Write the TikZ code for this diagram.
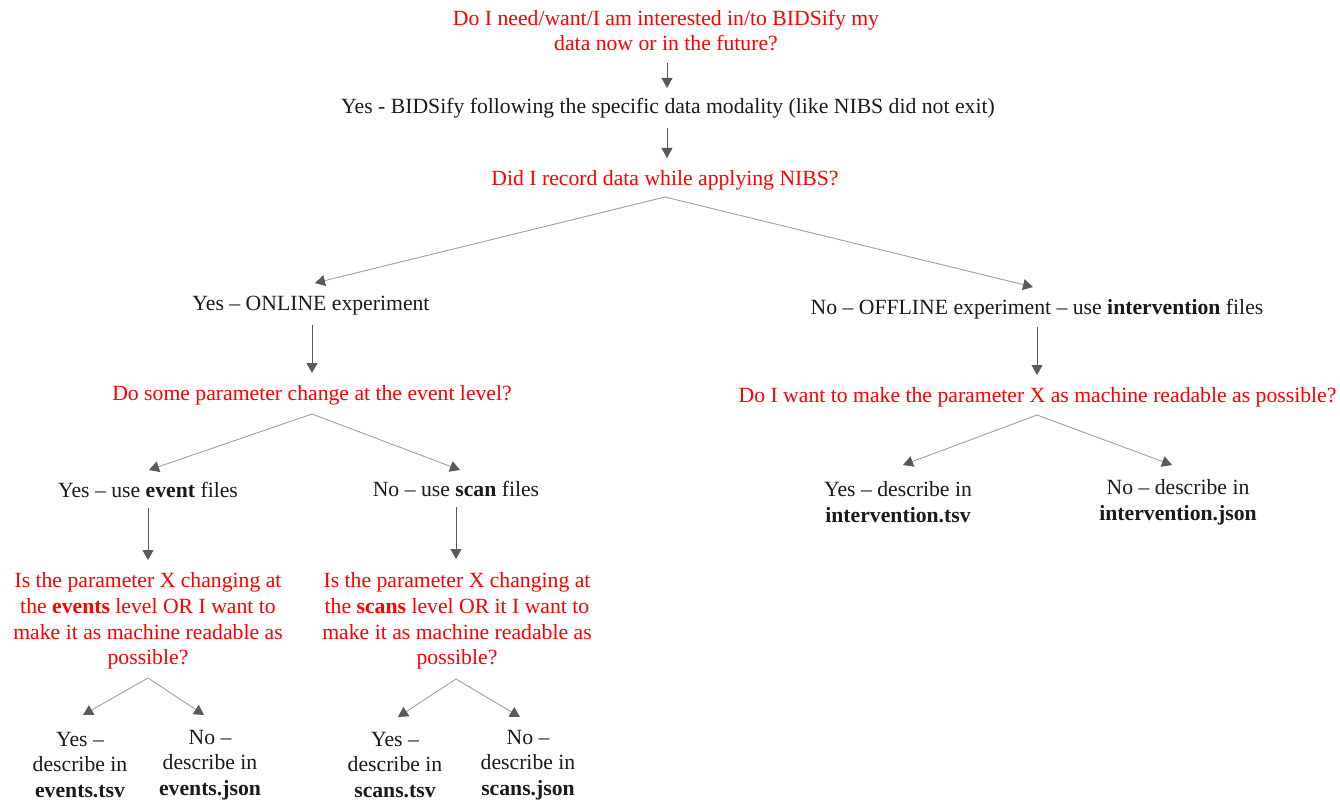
\documentclass[tikz,border=0pt]{standalone}
\usepackage{fontspec}
\setmainfont{Liberation Serif}
\usetikzlibrary{arrows.meta,calc}
\definecolor{qred}{HTML}{FF0000}
\definecolor{lgray}{HTML}{A0A0A0}
\definecolor{dgray}{HTML}{5A5A5A}
\definecolor{tblack}{HTML}{1A1A1A}
\begin{document}
\begin{tikzpicture}[x=1pt,y=-1pt,
  txt/.style={font=\fontsize{21.7}{25.8}\selectfont, align=center, inner sep=2pt, text=tblack},
  q/.style={txt, text=qred},
  varr/.style={draw=dgray, line width=0.9pt, -{Triangle[length=10pt,width=11pt]}},
  darr/.style={draw=lgray, line width=0.9pt, -{Triangle[length=10pt,width=11pt,color=dgray]}}
]
\useasboundingbox (0,0) rectangle (1340,805);
\node[q] (q1) at (666,30.5) {Do I need/want/I am interested in/to BIDSify my\\data now or in the future?};
\node[txt] (a1) at (668,108) {Yes - BIDSify following the specific data modality (like NIBS did not exit)};
\node[q] (q2) at (665,180) {Did I record data while applying NIBS?};
\node[txt] (on) at (311,306) {Yes – ONLINE experiment};
\node[txt] (off) at (1037,309) {No – OFFLINE experiment – use \textbf{intervention} files};
\node[q] (q3) at (312,395) {Do some parameter change at the event level?};
\node[q] (q4) at (1037.5,397) {Do I want to make the parameter X as machine readable as possible?};
\node[txt] (ev) at (148,490) {Yes – use \textbf{event} files};
\node[txt] (sc) at (456,489) {No – use \textbf{scan} files};
\node[q] (q5) at (148,621) {Is the parameter X changing at\\the \textbf{events} level OR I want to\\make it as machine readable as\\possible?};
\node[q] (q6) at (457,621) {Is the parameter X changing at\\the \textbf{scans} level OR it I want to\\make it as machine readable as\\possible?};
\node[txt] (l1) at (80,765) {Yes –\\describe in\\\textbf{events.tsv}};
\node[txt] (l2) at (210,765) {No –\\describe in\\\textbf{events.json}};
\node[txt] (l3) at (395,765) {Yes –\\describe in\\\textbf{scans.tsv}};
\node[txt] (l4) at (528,765) {No –\\describe in\\\textbf{scans.json}};
\node[txt] (r1) at (898,502) {Yes – describe in\\\textbf{intervention.tsv}};
\node[txt] (r2) at (1178,502) {No – describe in\\\textbf{intervention.json}};
% connectors
\draw[varr] ($(q1.center)+(1,32.5)$) -- ($(a1.center)+(-1,-20)$);
\draw[varr] ($(a1.center)+(-1,20)$) -- ($(q2.center)+(2,-22)$);
\draw[darr] ($(q2.center)+(0,17)$) -- ($(on.center)+(4,-23)$);
\draw[darr] ($(q2.center)+(0,17)$) -- ($(off.center)+(-4,-22)$);
\draw[varr] ($(on.center)+(1,19)$) -- ($(q3.center)+(0,-22)$);
\draw[varr] ($(off.center)+(0,18)$) -- ($(q4.center)+(-0.5,-22)$);
\draw[darr] ($(q3.center)+(0,19)$) -- ($(ev.center)+(1,-20)$);
\draw[darr] ($(q3.center)+(0,19)$) -- ($(sc.center)+(4,-19)$);
\draw[varr] ($(ev.center)+(0,18)$) -- ($(q5.center)+(0,-61)$);
\draw[varr] ($(sc.center)+(0,18)$) -- ($(q6.center)+(-1,-62)$);
\draw[darr] ($(q5.center)+(0,57)$) -- ($(l1.center)+(3,-50)$);
\draw[darr] ($(q5.center)+(0,57)$) -- ($(l2.center)+(-6,-50)$);
\draw[darr] ($(q6.center)+(-1,58)$) -- ($(l3.center)+(3,-48)$);
\draw[darr] ($(q6.center)+(-1,58)$) -- ($(l4.center)+(-8,-48)$);
\draw[darr] ($(q4.center)+(-0.5,18)$) -- ($(r1.center)+(5,-37)$);
\draw[darr] ($(q4.center)+(-0.5,18)$) -- ($(r2.center)+(-6,-37)$);
\end{tikzpicture}
\end{document}
